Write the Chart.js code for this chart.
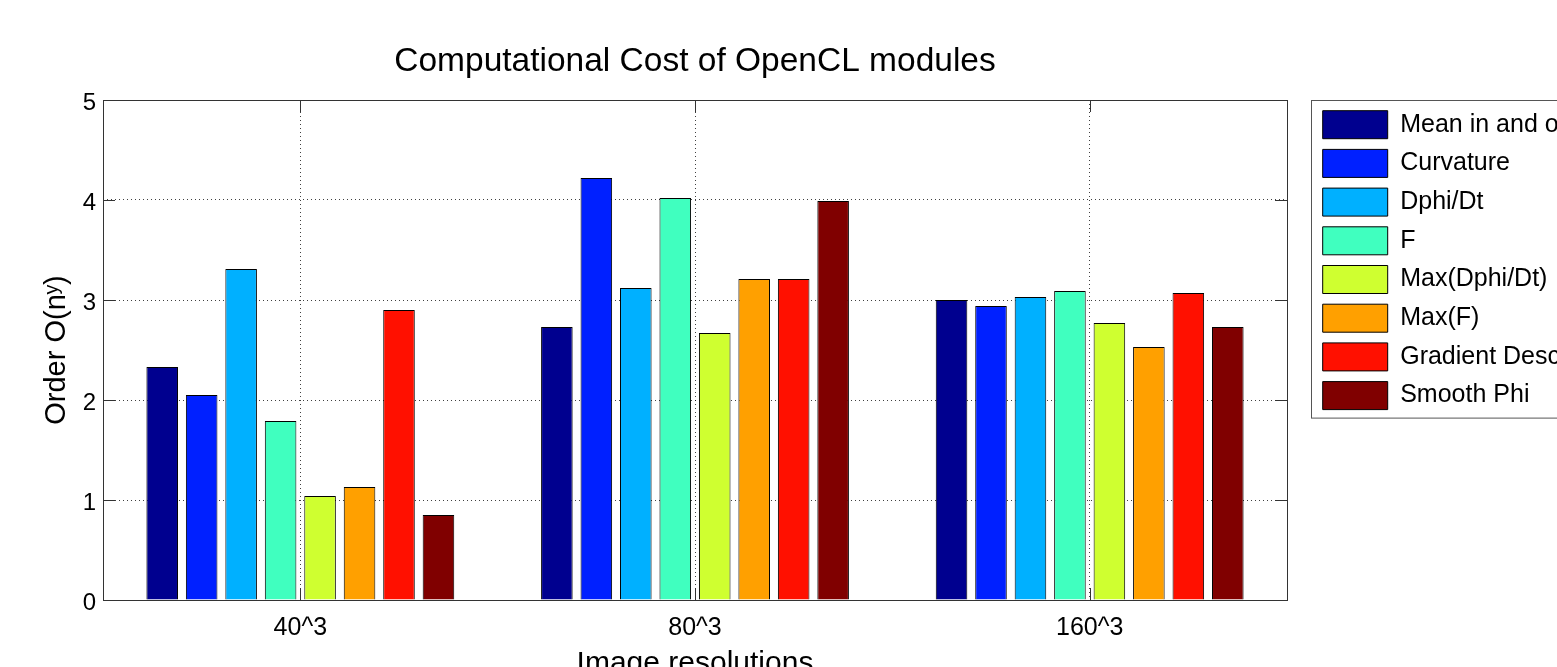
<!DOCTYPE html>
<html>
<head>
<meta charset="utf-8">
<title>Computational Cost of OpenCL modules</title>
<script src="https://cdn.jsdelivr.net/npm/chart.js@4"></script>
<style>
    html, body { margin: 0; padding: 0; background: #fff; overflow: hidden; }
    #wrap { width: 1557px; height: 700px; }
</style>
</head>
<body>
<div id="wrap"><canvas id="chart" width="1557" height="700"></canvas></div>
<script>
// categories and series
const resolutions = ['40^3', '80^3', '160^3'];
const moduleNames = ['Mean in and out', 'Curvature', 'Dphi/Dt', 'F', 'Max(Dphi/Dt)', 'Max(F)', 'Gradient Descent', 'Smooth Phi'];
const meanInOut = [2.33, 2.73, 3.00];
const curvature = [2.05, 4.22, 2.94];
const dphiDt = [3.31, 3.12, 3.03];
const fValues = [1.79, 4.02, 3.09];
const maxDphiDt = [1.04, 2.67, 2.77];
const maxF = [1.13, 3.21, 2.53];
const gradientDescent = [2.90, 3.21, 3.07];
const smoothPhi = [0.85, 3.99, 2.73];
const yTicks = [0, 1, 2, 3, 4, 5];

const seriesValues = [meanInOut, curvature, dphiDt, fValues, maxDphiDt, maxF, gradientDescent, smoothPhi];
// jet colormap, 8 steps
const jetColors = ['#00008f', '#0020ff', '#00b0ff', '#40ffbf', '#cfff30', '#ffa000', '#ff1000', '#800000'];

const FONT = "'Liberation Sans', Arial, Helvetica, sans-serif";
const LEGEND_PAD = 10.7;

// push the legend a bit away from the axes box, like the matlab figure
const legendShift = {
    id: 'legendShift',
    afterLayout(chart) {
        chart.legend.left += 25;
        chart.legend.right += 25;
    },
    afterDraw(chart) {
        const lg = chart.legend;
        const ctx = chart.ctx;
        const n = lg.legendItems.length;
        const h = LEGEND_PAD + n * (28 + LEGEND_PAD) - LEGEND_PAD + 8;
        ctx.save();
        ctx.strokeStyle = '#555';
        ctx.lineWidth = 1;
        ctx.strokeRect(Math.round(lg.left + LEGEND_PAD - 12) + 0.5, lg.top + 0.5, 400, h);
        ctx.restore();
    }
};

// axes frame with inner tick marks
const axesBox = {
    id: 'axesBox',
    afterDatasetsDraw(chart) {
        const { left, right, top, bottom } = chart.chartArea;
        const ctx = chart.ctx;
        const x = chart.scales.x;
        const y = chart.scales.y;
        const len = 12;
        ctx.save();
        ctx.strokeStyle = '#333';
        ctx.lineWidth = 1;
        ctx.strokeRect(Math.round(left) + 0.5, Math.round(top) + 0.5, Math.round(right - left), Math.round(bottom - top));
        ctx.beginPath();
        yTicks.forEach(v => {
            const py = Math.round(y.getPixelForValue(v)) + 0.5;
            ctx.moveTo(left, py); ctx.lineTo(left + len, py);
            ctx.moveTo(right, py); ctx.lineTo(right - len, py);
        });
        resolutions.forEach((r, i) => {
            const px = Math.round(x.getPixelForValue(i)) + 0.5;
            ctx.moveTo(px, bottom); ctx.lineTo(px, bottom - len);
            ctx.moveTo(px, top); ctx.lineTo(px, top + len);
        });
        ctx.stroke();
        ctx.restore();
    }
};

const ctx = document.getElementById('chart').getContext('2d');
new Chart(ctx, {
    type: 'bar',
    data: {
        labels: resolutions,
        datasets: moduleNames.map((name, i) => ({
            label: name,
            data: seriesValues[i],
            backgroundColor: jetColors[i],
            borderColor: '#000',
            borderWidth: 1,
            categoryPercentage: 0.8,
            barPercentage: 0.8
        }))
    },
    options: {
        responsive: false,
        maintainAspectRatio: false,
        devicePixelRatio: 1,
        animation: false,
        layout: { padding: 0 },
        plugins: {
            title: {
                display: true,
                text: 'Computational Cost of OpenCL modules',
                fullSize: false,
                color: '#000',
                font: { family: FONT, size: 33.5, weight: 'normal', lineHeight: 1.2 },
                padding: { top: 42, bottom: 17.8 }
            },
            legend: {
                position: 'right',
                align: 'start',
                fullSize: false,
                maxWidth: 270,
                labels: {
                    color: '#000',
                    font: { family: FONT, size: 25 },
                    boxWidth: 65,
                    boxHeight: 28,
                    padding: LEGEND_PAD
                }
            },
            tooltip: { enabled: false }
        },
        scales: {
            x: {
                afterFit: s => { s.height = 100; },
                grid: {
                    offset: false,
                    drawTicks: false,
                    color: 'rgba(0,0,0,0.75)'
                },
                border: { display: false, dash: [1, 3] },
                ticks: {
                    color: '#000',
                    padding: 13,
                    font: { family: FONT, size: 25 }
                },
                title: {
                    display: true,
                    text: 'Image resolutions',
                    color: '#000',
                    font: { family: FONT, size: 30, lineHeight: 1.2 },
                    padding: { top: 0, bottom: 18 }
                }
            },
            y: {
                min: 0,
                max: 5,
                afterFit: s => { s.width = 103; },
                afterBuildTicks: s => { s.ticks = yTicks.map(v => ({ value: v })); },
                grid: {
                    drawTicks: false,
                    color: 'rgba(0,0,0,0.75)'
                },
                border: { display: false, dash: [1, 3] },
                ticks: {
                    color: '#000',
                    padding: 7,
                    labelOffset: 3,
                    font: { family: FONT, size: 24 }
                },
                title: {
                    display: true,
                    text: 'Order O(nʸ)',
                    color: '#000',
                    font: { family: FONT, size: 29, lineHeight: 1.2 },
                    padding: { top: 40, bottom: 0 }
                }
            }
        }
    },
    plugins: [legendShift, axesBox]
});
</script>
</body>
</html>
